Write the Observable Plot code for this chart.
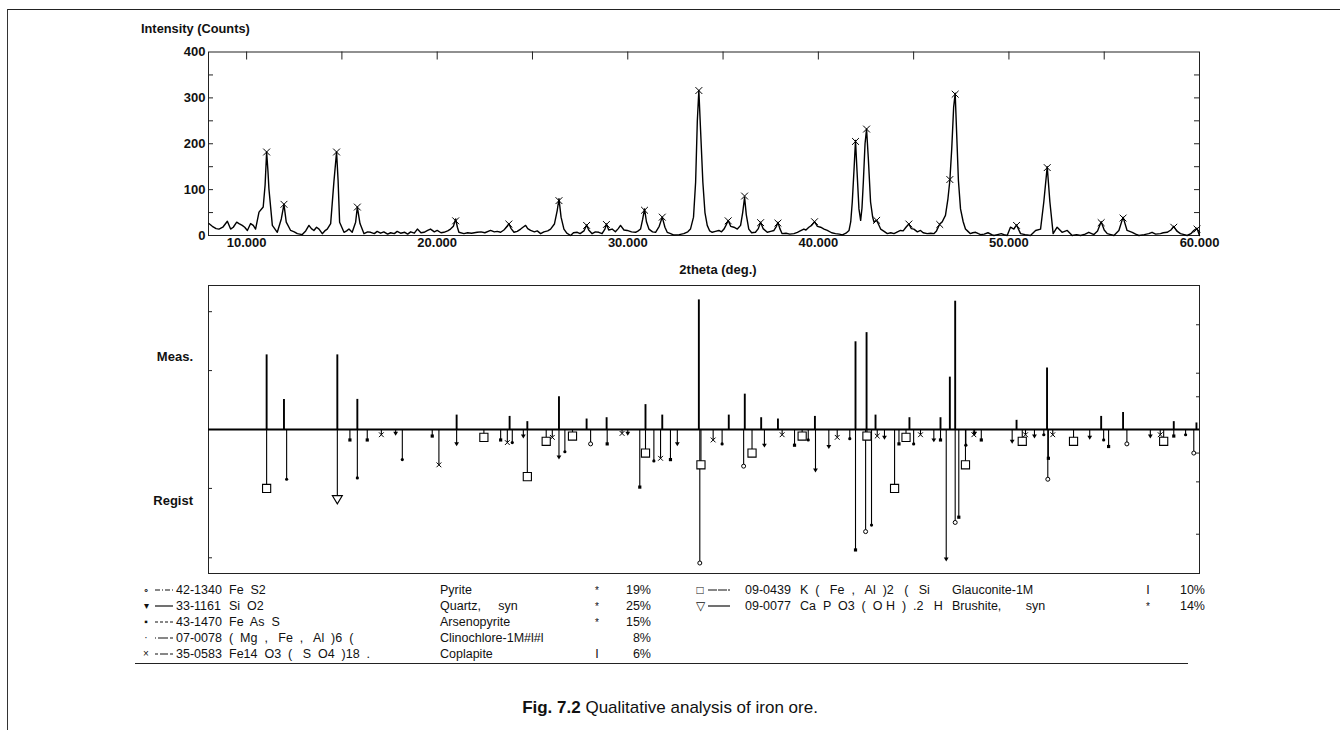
<!DOCTYPE html>
<html><head><meta charset="utf-8">
<script src="https://cdn.jsdelivr.net/npm/d3@7"></script>
<script src="https://cdn.jsdelivr.net/npm/@observablehq/plot@0.6"></script>
<style>
body{margin:0;background:#fff;}
#page{position:relative;width:1340px;height:730px;overflow:hidden;background:#fff;font-family:"Liberation Sans",Arial,Helvetica,sans-serif;color:#111;}
.t{position:absolute;white-space:pre;line-height:1;}
.b{font-weight:bold;}
.plot{position:absolute;left:0;}
.hl{position:absolute;height:0;border-top:1px solid #222;}
.vl{position:absolute;width:0;border-left:1px solid #333;}
</style></head><body><div id="page"></div>
<script>
// ---------- data ----------
const profileTheta = [8.02,8.2,8.4,8.55,8.75,8.99,9.16,9.3,9.48,9.6,9.77,9.9,10.04,10.21,10.35,10.47,10.65,10.87,10.97,11.05,11.12,11.17,11.35,11.61,11.82,11.96,12.08,12.31,12.5,12.66,12.92,13.1,13.27,13.4,13.53,13.67,13.8,13.97,14.1,14.23,14.41,14.58,14.72,14.8,14.88,15.11,15.25,15.37,15.54,15.72,15.81,15.95,16.16,16.35,16.51,16.7,16.85,17.03,17.2,17.4,17.56,17.75,17.9,18.08,18.3,18.45,18.61,18.8,18.96,19.15,19.31,19.5,19.65,19.85,20.0,20.2,20.35,20.55,20.7,20.85,20.97,21.06,21.14,21.4,21.6,21.8,22.1,22.3,22.5,22.8,23.0,23.15,23.33,23.5,23.68,23.76,23.88,24.03,24.2,24.38,24.5,24.64,24.75,24.9,25.1,25.25,25.43,25.6,25.8,25.95,26.15,26.3,26.39,26.5,26.65,26.8,27.0,27.15,27.35,27.5,27.7,27.84,27.95,28.13,28.3,28.48,28.65,28.8,28.88,29.0,29.18,29.35,29.5,29.62,29.8,29.97,30.2,30.41,30.55,30.67,30.78,30.88,30.98,31.11,31.3,31.46,31.65,31.81,31.95,32.07,32.25,32.42,32.7,32.94,33.15,33.29,33.45,33.56,33.65,33.73,33.82,33.94,34.05,34.17,34.3,34.43,34.6,34.78,34.92,35.05,35.15,35.27,35.4,35.57,35.75,35.92,36.03,36.13,36.22,36.35,36.5,36.7,36.85,36.97,37.1,37.32,37.5,37.67,37.8,37.88,37.98,38.1,38.3,38.5,38.72,38.9,39.05,39.24,39.35,39.5,39.65,39.8,39.95,40.12,40.3,40.47,40.7,40.9,41.1,41.26,41.45,41.61,41.7,41.78,41.88,41.95,42.03,42.13,42.22,42.29,42.36,42.45,42.53,42.62,42.74,42.85,42.92,43.0,43.06,43.15,43.27,43.45,43.62,43.8,43.97,44.15,44.31,44.45,44.6,44.75,44.88,45.01,45.2,45.36,45.5,45.71,45.9,46.06,46.2,46.37,46.5,46.67,46.8,46.9,47.0,47.1,47.18,47.26,47.35,47.46,47.6,47.72,47.85,47.98,48.1,48.25,48.4,48.51,48.7,48.9,49.1,49.21,49.4,49.6,49.8,49.91,50.08,50.26,50.4,50.61,50.85,51.13,51.4,51.66,51.83,52.01,52.15,52.32,52.53,52.79,53.06,53.32,53.55,53.76,54.0,54.19,54.46,54.65,54.84,55.0,55.16,55.35,55.51,55.77,55.99,56.2,56.47,56.65,56.82,57.1,57.34,57.51,57.7,57.95,58.1,58.3,58.5,58.65,58.8,59.0,59.2,59.35,59.55,59.7,59.87,60.0];
const profileCounts = [26,20,15,14,18,31,14,18,29,26,22,18,11,26,22,14,51,62,110,182,140,102,22,7,36,68,29,11,8,4,2,10,22,15,11,18,14,4,10,14,26,117,182,120,29,7,10,14,7,29,62,26,4,8,7,4,9,5,8,3,6,4,9,5,7,3,8,5,14,6,7,11,14,8,11,6,7,10,14,20,36,18,7,4,6,5,7,8,6,11,8,9,7,12,20,26,15,7,9,14,18,22,15,11,8,10,4,8,10,14,25,55,80,40,14,5,0,6,7,4,10,23,12,4,8,7,4,14,25,12,14,8,15,22,12,11,8,7,10,14,35,58,30,14,8,7,20,40,18,7,4,1,2,4,8,14,40,116,250,316,230,116,50,22,10,7,9,11,8,14,22,33,20,18,14,22,50,83,45,14,6,7,15,29,15,7,9,11,20,29,15,4,5,3,4,7,10,14,12,18,22,30,20,18,14,11,6,4,3,1.5,5,11,30,73,150,207,140,58,33,60,116,200,232,170,73,40,29,32,33,25,14,9,4,6,4,8,11,10,18,25,15,14,8,11,6,4,5,4,10,25,30,44,80,120,190,280,310,220,120,58,30,14,9,4,6,7,4,2,3,6,2,0,2,4,1,0,18,14,23,4,2,0,11,14,73,150,73,4,18,7,11,0,2,0,3,7,2,10,30,12,4,2,0,11,40,11,7,3,0,2,4,7,3,4,6,7,12,20,10,4,2,0,4,11,16,0];

const peakTheta = [11.05,11.96,14.72,15.81,20.97,23.76,26.39,27.84,28.88,30.88,31.81,33.73,35.27,36.13,36.97,37.88,39.8,41.95,42.53,43.06,44.75,46.37,46.9,47.18,50.4,52.01,54.84,55.99,58.65,59.87];
const peakCounts = [182,68,182,62,32,25,76,22,24,55,40,316,32,86,28,27,30,205,232,33,25,24,122,308,22,148,28,38,18,14];

const measTheta = [11.05,11.96,14.76,15.81,21.02,23.8,24.73,26.39,27.84,28.89,30.93,31.81,33.73,35.3,36.14,37.0,37.88,39.82,41.95,42.53,43.0,44.78,46.41,46.9,47.18,50.4,52.0,54.84,55.99,58.65,59.84];
const measHeight = [57,23,57,23,11,10,6,25,8,9,19,11,99,11,27,9,8,10,67,74,11,9,9,40,98,7,47,10,13,6,5];

const refTheta = [11.05,12.10,14.76,15.42,15.81,16.33,17.07,17.82,18.17,19.74,20.09,21.02,22.45,23.33,23.68,23.94,24.52,24.73,25.72,26.04,26.39,26.70,27.10,28.05,28.92,29.70,30.00,30.63,30.93,31.37,31.72,32.24,32.60,33.78,33.84,34.48,34.95,36.08,36.52,37.17,38.10,38.75,39.15,39.47,39.85,40.55,40.99,41.65,41.95,42.48,42.55,42.79,43.09,43.47,44.00,44.23,44.60,45.00,45.36,46.06,46.41,46.71,47.18,47.37,47.72,47.74,48.16,48.20,48.55,50.17,50.70,50.87,51.34,51.83,52.04,52.07,52.30,53.39,54.24,54.97,55.23,56.19,57.42,57.94,58.12,58.65,59.27,59.70];
const refDepth = [45,38,53,8,37,8,4,3,23,5,27,11,6,8,10,10,5,36,9,6,21,17,5,11,11,3,3,44,18,24,22,23,11,102,27,8,11,28,18,12,4,12,5,8,31,13,6,7,92,78,5,73,5,6,45,11,6,11,4,8,8,99,71,67,27,12,4,3,8,9,9,4,5,4,38,22,4,9,6,8,13,11,5,4,9,5,4,18];
const refPhase = ["gl","cl","br","as","cl","as","cp","qz","cl","as","cp","qz","gl","as","cp","cl","qz","gl","gl","cp","qz","cl","gl","py","as","cp","qz","as","gl","cl","cp","as","qz","py","gl","cp","cl","py","gl","qz","cp","as","gl","cl","qz","qz","cp","cl","as","py","gl","cl","cp","qz","gl","as","gl","cl","cp","qz","as","qz","py","as","gl","cl","cp","qz","as","qz","gl","cp","qz","cl","py","as","cp","gl","qz","cl","as","py","qz","cp","gl","as","cl","py"];

const xTicks = [10,20,30,40,50,60];
const xMinorTicks = [10,15,20,25,30,35,40,45,50,55];
const yTicks = [0,100,200,300,400];
const yMinorTicks = [50,100,150,200,250,300,350];

const legendSymbols = ["\u2218","\u25BE","\u25AA","\u00B7","\u00D7","\u25A1","\u25BD"];
const legendCodes = ["42-1340","33-1161","43-1470","07-0078","35-0583","09-0439","09-0077"];
const legendFormulas = ["Fe  S2","Si  O2","Fe  As  S","(  Mg  ,   Fe  ,   Al  )6  (","Fe14  O3  (   S  O4  )18  .","K  (   Fe  ,   Al  )2   (   Si","Ca  P  O3  (  O H  )  .2   H"];
const legendNames = ["Pyrite","Quartz,     syn","Arsenopyrite","Clinochlore-1M#l#l","Coplapite","Glauconite-1M","Brushite,       syn"];
const legendFlags = ["*","*","*","","I","I","*"];
const legendPercents = ["19%","25%","15%","8%","6%","10%","14%"];
const legendDash = ["5,2,1,2","none","3,2","1,2,9,0","3,2,8,2","9,1","none"];

// ---------- helpers ----------
const page = document.getElementById("page");
function txt(s, x, y, {size=13, bold=false, anchor="start", html=false}={}) {
  const d = document.createElement("div");
  d.className = "t" + (bold ? " b" : "");
  d.style.fontSize = size + "px";
  if (html) d.innerHTML = s; else d.textContent = s;
  const tx = anchor === "middle" ? "-50%" : anchor === "end" ? "-100%" : "0";
  d.style.left = x + "px"; d.style.top = y + "px";
  d.style.transform = `translate(${tx},-50%)`;
  page.appendChild(d);
  return d;
}
function hline(x1, x2, y){const d=document.createElement("div");d.className="hl";d.style.left=x1+"px";d.style.width=(x2-x1)+"px";d.style.top=y+"px";page.appendChild(d);}
function vline(x, y1, y2){const d=document.createElement("div");d.className="vl";d.style.left=x+"px";d.style.top=y1+"px";d.style.height=(y2-y1)+"px";page.appendChild(d);}

const triDown = {draw(ctx, size){const r=Math.sqrt(size/Math.PI);ctx.moveTo(-r,-0.65*r);ctx.lineTo(r,-0.65*r);ctx.lineTo(0,r);ctx.closePath();}};

// ---------- top panel ----------
const profile = profileTheta.map((t,i)=>({t, c: profileCounts[i]}));
const peaks = peakTheta.map((t,i)=>({t, c: peakCounts[i]}));
const FRAME_W = 991;
const topPlot = Plot.plot({
  width: 1340, height: 285,
  marginLeft: 208, marginRight: 141, marginTop: 51.5, marginBottom: 50,
  x: {domain: [8, 60], axis: null},
  y: {domain: [0, 400], axis: null},
  style: {background: "transparent", overflow: "visible", fontFamily: "Liberation Sans, Arial, sans-serif"},
  marks: [
    Plot.frame({stroke: "#222", strokeWidth: 1}),
    Plot.ruleY(yMinorTicks, {y: d=>d, insetRight: FRAME_W - 5, stroke: "#222"}),
    Plot.ruleY(yMinorTicks, {y: d=>d, insetLeft: FRAME_W - 5, stroke: "#222"}),
    Plot.ruleX(xMinorTicks, {x: d=>d, insetBottom: 183.5 - 8, stroke: "#222"}),
    Plot.ruleY([0], {stroke: "#222", strokeWidth: 1}),
    Plot.line(profile, {x: "t", y: "c", stroke: "#000", strokeWidth: 1.4, curve: "linear"}),
    Plot.dot(peaks, {x: "t", y: "c", symbol: "times", r: 3.2, stroke: "#000", strokeWidth: 1}),
    Plot.text(yTicks, {y: d=>d, text: d=>String(d), frameAnchor: "left", textAnchor: "end", dx: -3, fontSize: 13, fontWeight: "bold", fill: "#111"}),
    Plot.text(xTicks, {x: d=>d, text: d=>d.toFixed(3), frameAnchor: "bottom", dy: 11.5, fontSize: 13, fontWeight: "bold", fill: "#111"})
  ]
});
topPlot.classList.add("plot");
topPlot.style.top = "0px";
page.appendChild(topPlot);

// ---------- bottom panel ----------
const meas = measTheta.map((t,i)=>({t, h: measHeight[i]}));
const refs = refTheta.map((t,i)=>({t, d: refDepth[i], p: refPhase[i]}));
const byPhase = p => refs.filter(r => r.p === p);
const botPlot = Plot.plot({
  width: 1340, height: 310,
  marginLeft: 208, marginRight: 141, marginTop: 15, marginBottom: 7,
  x: {domain: [8, 60], axis: null},
  y: {domain: [-110, 110], axis: null},
  style: {background: "transparent", overflow: "visible"},
  marks: [
    Plot.frame({stroke: "#222", strokeWidth: 1}),
    Plot.ruleY([90, 45, -45, -98], {y: d=>d, insetRight: FRAME_W - 4, stroke: "#222"}),
    Plot.ruleY([80, 43, 25, -18, -40, -80], {y: d=>d, insetLeft: FRAME_W - 3, stroke: "#222"}),
    Plot.ruleX(refs, {x: "t", y1: 0, y2: d => -d.d, stroke: "#000", strokeWidth: 1.1}),
    Plot.ruleX(meas, {x: "t", y1: 0, y2: "h", stroke: "#000", strokeWidth: 1.9}),
    Plot.ruleY([0], {stroke: "#000", strokeWidth: 2}),
    Plot.dot(byPhase("py"), {x: "t", y: d => -d.d, r: 2, fill: "#fff", stroke: "#000", strokeWidth: 1}),
    Plot.dot(byPhase("qz"), {x: "t", y: d => -d.d, r: 2.4, symbol: triDown, fill: "#000", stroke: "none"}),
    Plot.dot(byPhase("as"), {x: "t", y: d => -d.d, r: 1.8, symbol: "square", fill: "#000", stroke: "none"}),
    Plot.dot(byPhase("cl"), {x: "t", y: d => -d.d, r: 1.6, fill: "#000", stroke: "none"}),
    Plot.dot(byPhase("cp"), {x: "t", y: d => -d.d, r: 2.3, symbol: "times", stroke: "#000", strokeWidth: 1}),
    Plot.dot(byPhase("gl"), {x: "t", y: d => -d.d, r: 4.6, symbol: "square", fill: "#fff", stroke: "#000", strokeWidth: 1.1}),
    Plot.dot(byPhase("br"), {x: "t", y: d => -d.d, r: 5, symbol: triDown, fill: "#fff", stroke: "#000", strokeWidth: 1.1})
  ]
});
botPlot.classList.add("plot");
botPlot.style.top = "270px";
page.appendChild(botPlot);

// ---------- text labels ----------
txt("Intensity (Counts)", 141, 29, {size: 12.8, bold: true});
txt("2theta (deg.)", 718, 269, {size: 13, bold: true, anchor: "middle"});
txt("Meas.", 193, 356, {size: 13, bold: true, anchor: "end"});
txt("Regist", 193, 500, {size: 13, bold: true, anchor: "end"});

// ---------- legend ----------
const leftRows = [590, 606, 622, 638, 654];
const rightRows = [590, 606];
function legendRow(i, y, cols) {
  txt(legendSymbols[i], cols.sym, y, {size: i >= 5 ? 12 : 10, anchor: "middle"});
  const svg = document.createElementNS("http://www.w3.org/2000/svg", "svg");
  svg.setAttribute("width", cols.l2 - cols.l1); svg.setAttribute("height", 4);
  svg.style.position = "absolute"; svg.style.left = cols.l1 + "px"; svg.style.top = (y - 2) + "px";
  const ln = document.createElementNS("http://www.w3.org/2000/svg", "line");
  ln.setAttribute("x1", 0); ln.setAttribute("x2", cols.l2 - cols.l1); ln.setAttribute("y1", 2); ln.setAttribute("y2", 2);
  ln.setAttribute("stroke", "#111"); ln.setAttribute("stroke-width", 1.2);
  if (legendDash[i] !== "none") ln.setAttribute("stroke-dasharray", legendDash[i]);
  svg.appendChild(ln); page.appendChild(svg);
  txt(legendCodes[i], cols.code, y, {size: 12.5});
  txt(legendFormulas[i], cols.form, y, {size: 12.5});
  txt(legendNames[i], cols.name, y, {size: 12.5});
  if (legendFlags[i]) txt(legendFlags[i], cols.flag, y + (legendFlags[i] === "*" ? 1 : 0), {size: legendFlags[i] === "*" ? 10 : 12.5, anchor: "middle"});
  txt(legendPercents[i], cols.pct, y, {size: 12.5, anchor: "end"});
}
const leftCols = {sym: 146, l1: 155, l2: 173, code: 176, form: 229, name: 440, flag: 597, pct: 651};
const rightCols = {sym: 700, l1: 708, l2: 730, code: 745, form: 800, name: 952, flag: 1148, pct: 1205};
leftRows.forEach((y, i) => legendRow(i, y, leftCols));
rightRows.forEach((y, k) => legendRow(5 + k, y, rightCols));
hline(135, 1188, 663);

// ---------- caption & page border ----------
txt("<b>Fig. 7.2</b> Qualitative analysis of iron ore.", 670, 707, {size: 17, anchor: "middle", html: true});
hline(7, 1340, 9);
vline(7, 9, 730);
</script></body></html>
